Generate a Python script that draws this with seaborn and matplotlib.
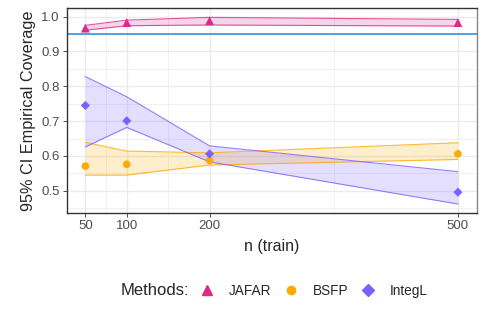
import numpy as np
import pandas as pd
import matplotlib
matplotlib.use('Agg')
import matplotlib.pyplot as plt
import seaborn as sns
from matplotlib.lines import Line2D

# data
n_train = [50, 100, 200, 500]
methods = ['JAFAR', 'BSFP', 'IntegL']
coverage = {
    'JAFAR': [0.967, 0.983, 0.988, 0.983],
    'BSFP': [0.571, 0.576, 0.587, 0.606],
    'IntegL': [0.745, 0.701, 0.606, 0.496],
}
ci_low = {
    'JAFAR': [0.961, 0.974, 0.976, 0.973],
    'BSFP': [0.545, 0.545, 0.574, 0.590],
    'IntegL': [0.626, 0.682, 0.583, 0.462],
}
ci_high = {
    'JAFAR': [0.975, 0.990, 0.998, 0.992],
    'BSFP': [0.639, 0.614, 0.609, 0.638],
    'IntegL': [0.828, 0.770, 0.629, 0.555],
}
nominal = 0.95

colors = {'JAFAR': '#E0288A', 'BSFP': '#FFAA00', 'IntegL': '#7B61FF'}
markers = {'JAFAR': '^', 'BSFP': 'o', 'IntegL': 'D'}
sizes = {'JAFAR': 40, 'BSFP': 30, 'IntegL': 22}

df = pd.DataFrame([
    {'n': n, 'method': m, 'cov': coverage[m][i], 'lo': ci_low[m][i], 'hi': ci_high[m][i]}
    for m in methods for i, n in enumerate(n_train)
])

sns.set_theme(style='white')
plt.rcParams['font.family'] = ['Liberation Sans', 'DejaVu Sans']

fig = plt.figure(figsize=(4.98, 3.19), dpi=100)
ax = fig.add_axes([0.134, 0.332, 0.823, 0.642])

# minor + major grid
for x in [75, 150, 350]:
    ax.axvline(x, color='#EBEBEB', lw=0.5, zorder=0)
for x in n_train:
    ax.axvline(x, color='#EBEBEB', lw=1.0, zorder=0)
for y in [0.45, 0.55, 0.65, 0.75, 0.85, 0.95]:
    ax.axhline(y, color='#EBEBEB', lw=0.5, zorder=0)
for y in [0.5, 0.6, 0.7, 0.8, 0.9, 1.0]:
    ax.axhline(y, color='#EBEBEB', lw=1.0, zorder=0)

# confidence ribbons
for m in methods:
    sub = df[df['method'] == m]
    ax.fill_between(sub['n'], sub['lo'], sub['hi'], color=colors[m], alpha=0.2, lw=0, zorder=1)
    ax.plot(sub['n'], sub['lo'], color=colors[m], lw=0.8, alpha=0.8, zorder=2)
    ax.plot(sub['n'], sub['hi'], color=colors[m], lw=0.8, alpha=0.8, zorder=2)

ax.axhline(nominal, color='#1E88E5', lw=1.1, zorder=2)

for m in methods:
    sns.scatterplot(data=df[df['method'] == m], x='n', y='cov', ax=ax,
                    color=colors[m], marker=markers[m], s=sizes[m],
                    edgecolor='none', zorder=3, legend=False)

ax.set_xlim(27.5, 522.5)
ax.set_ylim(0.436, 1.024)
ax.set_xticks(n_train)
ax.set_yticks([0.5, 0.6, 0.7, 0.8, 0.9, 1.0])
ax.set_yticklabels(['0.5', '0.6', '0.7', '0.8', '0.9', '1.0'])
ax.tick_params(axis='both', labelsize=9.5, length=3, width=0.6,
               direction='out', bottom=True, left=True, pad=2,
               colors='#333333', labelcolor='#4D4D4D')
ax.set_xlabel('n (train)', fontsize=11.5, labelpad=5)
ax.set_ylabel('95% CI Empirical Coverage', fontsize=11.7, labelpad=4)

for side in ['left', 'bottom', 'top']:
    ax.spines[side].set_color('#333333')
    ax.spines[side].set_linewidth(1.0)
ax.spines['right'].set_color('#888888')
ax.spines['right'].set_linewidth(1.0)

handles = [Line2D([], [], linestyle='none', marker=markers[m], color=colors[m],
                  markersize=7 if m == 'JAFAR' else 6) for m in methods]
fig.text(0.242, 0.088, 'Methods:', fontsize=12, va='center', ha='left')
fig.legend(handles, methods, loc='center left', bbox_to_anchor=(0.375, 0.088),
           ncol=3, frameon=False, fontsize=9.8, handletextpad=1.0,
           columnspacing=0.85, handlelength=1.2)

fig.savefig('out.png', dpi=100)
